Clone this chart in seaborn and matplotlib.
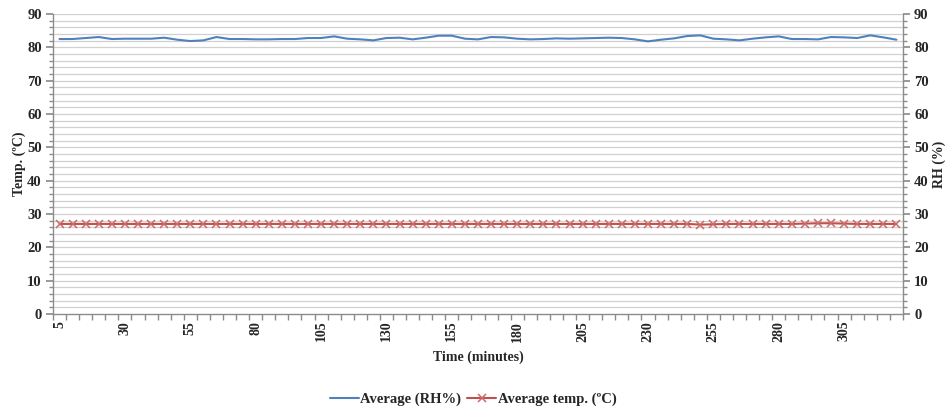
import matplotlib
matplotlib.use("Agg")
import matplotlib.pyplot as plt
from matplotlib.ticker import MultipleLocator, FixedLocator
import pandas as pd
import seaborn as sns

minutes = [5, 10, 15, 20, 25, 30, 35, 40, 45, 50, 55, 60, 65, 70, 75, 80,
           85, 90, 95, 100, 105, 110, 115, 120, 125, 130, 135, 140, 145, 150,
           155, 160, 165, 170, 175, 180, 185, 190, 195, 200, 205, 210, 215,
           220, 225, 230, 235, 240, 245, 250, 255, 260, 265, 270, 275, 280,
           285, 290, 295, 300, 305, 310, 315, 320, 325]

avg_rh = [82.5, 82.5, 82.8, 83.1, 82.5, 82.6, 82.6, 82.6, 82.9, 82.3,
          81.9, 82.1, 83.1, 82.5, 82.5, 82.4, 82.4, 82.5, 82.5, 82.8,
          82.8, 83.3, 82.6, 82.4, 82.1, 82.8, 82.9, 82.4, 82.9, 83.5,
          83.5, 82.6, 82.4, 83.1, 83.0, 82.6, 82.4, 82.5, 82.7, 82.6,
          82.7, 82.8, 82.9, 82.8, 82.4, 81.8, 82.3, 82.7, 83.4, 83.6,
          82.6, 82.4, 82.1, 82.6, 83.0, 83.3, 82.5, 82.5, 82.4, 83.1,
          83.0, 82.8, 83.6, 83.0, 82.3]

avg_temp = [27.0, 27.0, 27.0, 27.0, 27.0, 27.0, 27.0, 27.0, 27.0, 27.0,
            27.0, 27.0, 27.0, 27.0, 27.0, 27.0, 27.0, 27.0, 27.0, 27.0,
            27.0, 27.0, 27.0, 27.0, 27.0, 27.0, 27.0, 27.0, 27.0, 27.0,
            27.0, 27.0, 27.0, 27.0, 27.0, 27.0, 27.0, 27.0, 27.0, 27.0,
            27.0, 27.0, 27.0, 27.0, 27.0, 27.0, 27.0, 27.0, 27.0, 26.8,
            26.9, 27.0, 27.0, 27.0, 27.0, 27.0, 27.0, 27.1, 27.2, 27.2,
            27.1, 27.0, 27.0, 27.0, 27.0]

label_minutes = [5, 30, 55, 80, 105, 130, 155, 180, 205, 230, 255, 280, 305]

df = pd.DataFrame({"minutes": minutes, "rh": avg_rh, "temp": avg_temp})

sns.set_theme(style="white")
plt.rcParams["font.family"] = ["Liberation Serif", "DejaVu Serif"]
plt.rcParams["font.weight"] = "bold"

RH_COLOR = "#4F81BD"
TEMP_COLOR = "#C0504D"
AXIS_COLOR = "#8c8c8c"

fig = plt.figure(figsize=(9.46, 4.13), dpi=100)
ax = fig.add_axes([0.056, 0.24, 0.8985, 0.726])
ax2 = ax.twinx()

# horizontal gridlines every 2 units
for y in range(2, 91, 2):
    ax.axhline(y, color="#d0d0d0", lw=0.9, zorder=0)

sns.lineplot(data=df, x="minutes", y="temp", ax=ax, color=TEMP_COLOR,
             marker="x", markersize=5.5, markeredgewidth=1.1,
             markeredgecolor="#cc6a68", lw=1.5,
             label="Average temp. (\u00baC)", legend=False)
sns.lineplot(data=df, x="minutes", y="rh", ax=ax2, color=RH_COLOR, lw=1.5,
             label="Average (RH%)", legend=False)

for a in (ax, ax2):
    a.set_ylim(0, 90)
    a.set_xlim(minutes[0] - 2.5, minutes[-1] + 2.5)
    a.yaxis.set_major_locator(MultipleLocator(10))
    a.yaxis.set_minor_locator(MultipleLocator(2))
    for s in a.spines.values():
        s.set_visible(False)

ax.spines["left"].set_visible(True)
ax.spines["bottom"].set_visible(True)
ax2.spines["right"].set_visible(True)
for s in (ax.spines["left"], ax.spines["bottom"], ax2.spines["right"]):
    s.set_color(AXIS_COLOR)
    s.set_linewidth(1.0)

ax.tick_params(axis="y", which="both", left=True, direction="out",
               color=AXIS_COLOR, labelsize=10.5, pad=3)
ax.tick_params(axis="y", which="major", length=5)
ax.tick_params(axis="y", which="minor", length=3)
ax2.tick_params(axis="y", which="both", right=True, direction="out",
                color=AXIS_COLOR, labelsize=10.5, pad=3)
ax2.tick_params(axis="y", which="major", length=5)
ax2.tick_params(axis="y", which="minor", length=3)

# category boundaries carry the tick marks, labels sit on the categories
bounds = [m - 2.5 for m in minutes] + [minutes[-1] + 2.5]
ax.xaxis.set_minor_locator(FixedLocator(bounds))
ax.set_xticks(label_minutes)
ax.set_xticklabels([str(m) for m in label_minutes], rotation=90,
                   fontsize=10, fontweight="bold")
ax.tick_params(axis="x", which="major", length=0, pad=5)
ax.tick_params(axis="x", which="minor", bottom=True, length=4,
               color=AXIS_COLOR, direction="out")

for lbl in ax.get_yticklabels() + ax2.get_yticklabels():
    lbl.set_fontweight("bold")

ax.set_xlabel("Time (minutes)", fontsize=10, fontweight="bold", labelpad=6)
ax.set_ylabel("Temp. (\u00baC)", fontsize=10, fontweight="bold", labelpad=1)
ax2.set_ylabel("RH (%)", fontsize=10, fontweight="bold", labelpad=3,
               rotation=90)

handles = ax2.get_lines()[:1] + ax.get_lines()[-1:]
labels = ["Average (RH%)", "Average temp. (\u00baC)"]
fig.legend(handles, labels, loc="center", bbox_to_anchor=(0.5, 0.033),
           ncol=2, frameon=False, handlelength=2.0, handletextpad=0.1,
           columnspacing=0.4, prop={"weight": "bold", "size": 10.5})

fig.savefig("out.png", dpi=100)
